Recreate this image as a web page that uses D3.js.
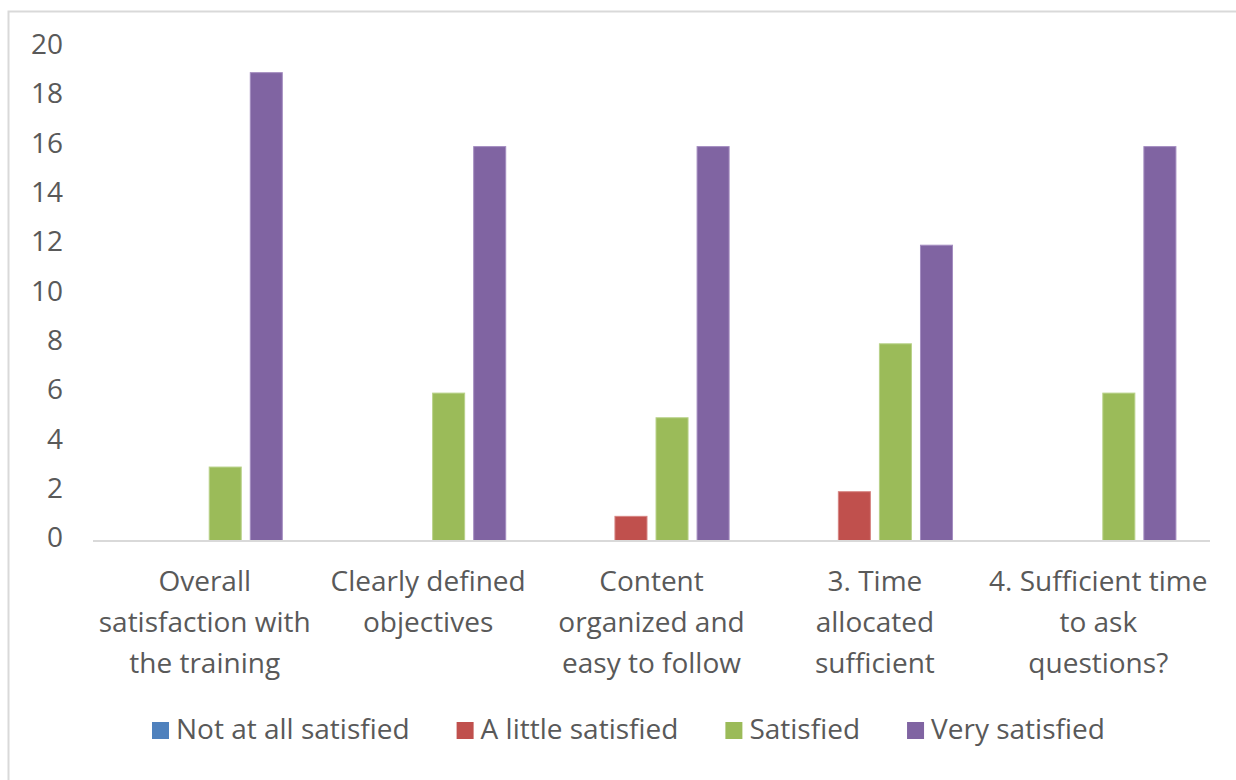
<!DOCTYPE html>
<html>
<head>
<meta charset="utf-8">
<script src="https://cdn.jsdelivr.net/npm/d3@7/dist/d3.min.js"></script>
<style>
    body { margin: 0; background: #fff; }
    svg text { font-family: 'Open Sans', 'Noto Sans', sans-serif; fill: #595959; }
</style>
</head>
<body>
<svg id="chart" width="1236" height="780"></svg>
<script>
// survey answers per question
const categories = [
    [ 'Overall', 'satisfaction with', 'the training' ],
    [ 'Clearly defined', 'objectives' ],
    [ 'Content', 'organized and', 'easy to follow' ],
    [ '3. Time', 'allocated', 'sufficient' ],
    [ '4. Sufficient time', 'to ask', 'questions?' ]
];
const seriesNames = [ 'Not at all satisfied', 'A little satisfied', 'Satisfied', 'Very satisfied' ];
const notAtAll = [ 0, 0, 0, 0, 0 ];
const aLittle = [ 0, 0, 1, 2, 0 ];
const satisfied = [ 3, 6, 5, 8, 6 ];
const verySatisfied = [ 19, 16, 16, 12, 16 ];
const yTicks = [ 0, 2, 4, 6, 8, 10, 12, 14, 16, 18, 20 ];
const colors = [ '#4f81bd', '#c0504d', '#9bbb59', '#8064a2' ];
const strokes = [ '#7a9fd0', '#d68482', '#b9d28a', '#a48dc0' ];

const values = [ notAtAll, aLittle, satisfied, verySatisfied ];
const fontSize = '28px';

const svg = d3.select( '#chart' );

// outer chart frame
svg.append( 'rect' )
    .attr( 'x', 8.5 ).attr( 'y', 11.5 )
    .attr( 'width', 1240 ).attr( 'height', 800 )
    .attr( 'fill', 'none' )
    .attr( 'stroke', '#d9d9d9' )
    .attr( 'stroke-width', 2 );

const margin = { left: 93, right: 26, top: 48, bottom: 239 },
    width = 1236 - margin.left - margin.right,
    height = 780 - margin.top - margin.bottom;

const g = svg.append( 'g' ).attr( 'transform', `translate(${margin.left},${margin.top})` );

const x0 = d3.scaleBand().domain( d3.range( categories.length ) ).range( [ 0, width ] );
const x1 = d3.scaleBand().domain( d3.range( seriesNames.length ) )
    .range( [ 0, x0.bandwidth() ] )
    .paddingInner( 0.22 )
    .paddingOuter( 0.83 );
const y = d3.scaleLinear().domain( [ 0, 20 ] ).range( [ height, 0 ] );

// y axis labels only
const yAxis = g.append( 'g' )
    .call( d3.axisLeft( y ).tickValues( yTicks ).tickSize( 0 ).tickPadding( 30 ) );
yAxis.select( '.domain' ).remove();
yAxis.selectAll( 'text' )
    .attr( 'dy', '0.2em' )
    .style( 'font-size', fontSize )
    .style( 'font-family', "'Open Sans', 'Noto Sans', sans-serif" )
    .attr( 'fill', '#595959' );

// bars
values.forEach( ( vals, s ) => {
    g.append( 'g' ).selectAll( 'rect' )
        .data( vals.map( ( v, i ) => ( { i, v } ) ).filter( d => d.v > 0 ) )
        .enter().append( 'rect' )
        .attr( 'x', d => x0( d.i ) + x1( s ) )
        .attr( 'y', d => y( d.v ) )
        .attr( 'width', x1.bandwidth() )
        .attr( 'height', d => height - y( d.v ) )
        .attr( 'fill', colors[ s ] )
        .attr( 'stroke', strokes[ s ] )
        .attr( 'stroke-width', 1 );
} );

// baseline
g.append( 'line' )
    .attr( 'x1', 0 ).attr( 'x2', width )
    .attr( 'y1', height ).attr( 'y2', height )
    .attr( 'stroke', '#d9d9d9' )
    .attr( 'stroke-width', 2 );

// category labels
const xAxis = g.append( 'g' )
    .attr( 'transform', `translate(0,${height})` )
    .call( d3.axisBottom( x0 ).tickSize( 0 ).tickFormat( '' ) );
xAxis.select( '.domain' ).remove();
xAxis.selectAll( '.tick' ).each( function( d ) {
    let t = d3.select( this ).append( 'text' )
        .attr( 'text-anchor', 'middle' )
        .style( 'font-size', fontSize );
    categories[ d ].forEach( ( line, k ) => {
        t.append( 'tspan' )
            .attr( 'x', 0 )
            .attr( 'y', 50 + k * 41 )
            .text( line );
    } );
} );

// legend
const legend = svg.append( 'g' ).attr( 'transform', 'translate(152,739)' );
let lx = 0;
seriesNames.forEach( ( name, s ) => {
    let item = legend.append( 'g' ).attr( 'transform', `translate(${lx},0)` );
    item.append( 'rect' )
        .attr( 'x', 0 ).attr( 'y', -17 )
        .attr( 'width', 17 ).attr( 'height', 17 )
        .attr( 'fill', colors[ s ] );
    let txt = item.append( 'text' )
        .attr( 'x', 24 ).attr( 'y', 0 )
        .style( 'font-size', fontSize )
        .text( name );
    lx += 24 + txt.node().getComputedTextLength() + 47;
} );
</script>
</body>
</html>
